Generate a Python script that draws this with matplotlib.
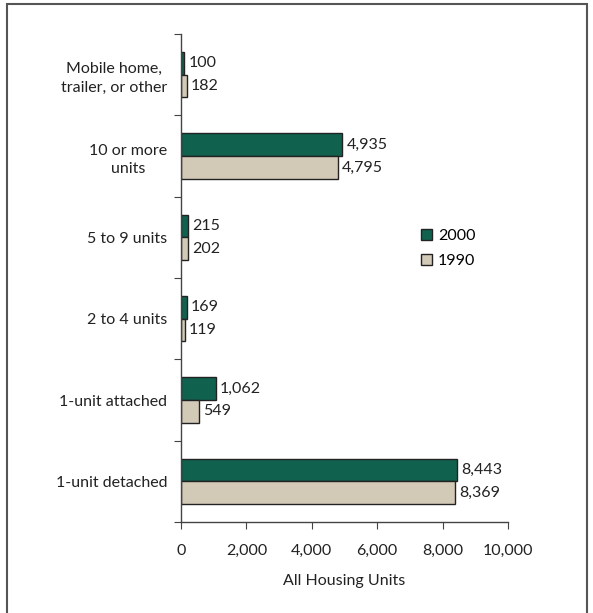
import matplotlib.pyplot as plt
from matplotlib.patches import Rectangle

plt.rcParams['font.family'] = ['Lato', 'DejaVu Sans']

# Housing units by structure type, bottom to top
categories = ['1-unit detached', '1-unit attached', '2 to 4 units',
              '5 to 9 units', '10 or more\nunits', 'Mobile home,\ntrailer, or other']
units_2000 = [8443, 1062, 169, 215, 4935, 100]
units_1990 = [8369, 549, 119, 202, 4795, 182]
x_ticks = [0, 2000, 4000, 6000, 8000, 10000]

green = '#10624f'
beige = '#d3c9b7'
edge = '#222222'
txt = '#222222'
fs = 11.5

fig = plt.figure(figsize=(5.93, 6.13), dpi=100)
ax = fig.add_axes([0.3052, 0.1484, 0.5514, 0.7961])

h = 0.28
pos = list(range(len(categories)))
ax.barh([p + h / 2 for p in pos], units_2000, height=h, color=green,
        edgecolor=edge, linewidth=1, label='2000')
ax.barh([p - h / 2 for p in pos], units_1990, height=h, color=beige,
        edgecolor=edge, linewidth=1, label='1990')

for p, v in zip(pos, units_2000):
    ax.annotate(f'{v:,}', (v, p + h / 2), xytext=(3, 0), textcoords='offset points',
                va='center', ha='left', fontsize=fs, color=txt)
for p, v in zip(pos, units_1990):
    ax.annotate(f'{v:,}', (v, p - h / 2), xytext=(3, 0), textcoords='offset points',
                va='center', ha='left', fontsize=fs, color=txt)

ax.set_xlim(0, 10000)
ax.set_ylim(-0.5, len(categories) - 0.5)
ax.set_xticks(x_ticks)
ax.set_xticklabels([f'{t:,}' for t in x_ticks], fontsize=fs, color=txt)
ax.set_yticks([p - 0.5 for p in pos] + [len(categories) - 0.5])
ax.set_yticklabels([])
ax.set_yticks(pos, minor=True)
ax.set_yticklabels(categories, minor=True, fontsize=fs, color=txt, ha='right')
for lbl in ax.get_yticklabels(minor=True):
    lbl.set_multialignment('center')
    lbl.set_linespacing(1.45)
ax.tick_params(axis='y', which='minor', length=0, pad=10)
ax.tick_params(axis='y', which='major', length=5, color='#444444')
ax.tick_params(axis='x', length=5, color='#444444', pad=11)
ax.set_xlabel('All Housing Units', fontsize=fs, color=txt, labelpad=11)

for s in ['top', 'right']:
    ax.spines[s].set_visible(False)
for s in ['left', 'bottom']:
    ax.spines[s].set_color('#444444')
    ax.spines[s].set_linewidth(1)

ax.legend(loc='upper left', bbox_to_anchor=(0.715, 0.613), frameon=False,
          fontsize=fs, handlelength=0.7, handleheight=0.7, handletextpad=0.35,
          labelspacing=0.65, borderaxespad=0)

# outer frame around the whole chart
fig.patches.append(Rectangle((7 / 593, -0.02), 580 / 593, 1 - 4 / 613 + 0.02,
                             transform=fig.transFigure, fill=False,
                             edgecolor='#555555', linewidth=1.5))

fig.savefig('out.png', dpi=100)
